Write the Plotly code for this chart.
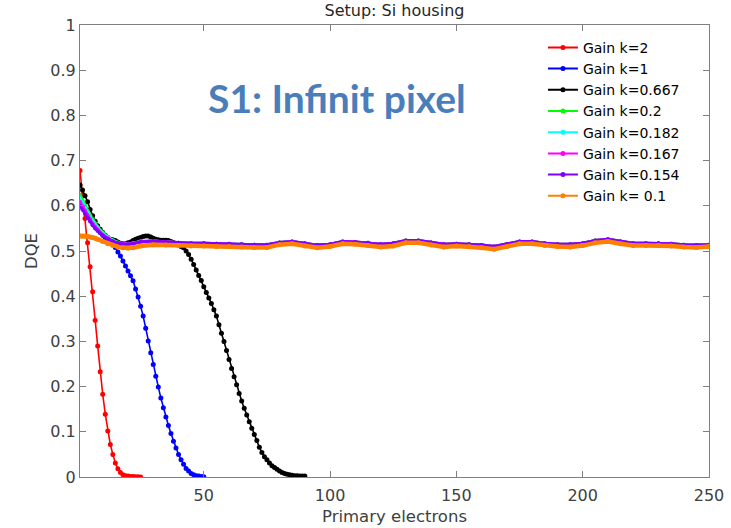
import plotly.graph_objects as go

# x grids
red_x = list(range(1, 26))
blue_x = list(range(1, 51))
black_x = list(range(1, 91))
flat_head_x = [1, 2, 3, 4, 5, 6, 7, 8, 10, 12, 14, 16, 18, 20, 22, 25]
flat_tail_x = list(range(30, 251, 5))

# DQE values per gain
red_y = [0.678, 0.625, 0.572, 0.518, 0.465, 0.410, 0.347, 0.290, 0.233, 0.183,
         0.139, 0.102, 0.072, 0.050, 0.031, 0.018, 0.010, 0.005, 0.003, 0.002,
         0.001, 0.001, 0.0005, 0.0003, 0.0002]

blue_y = [0.612, 0.601, 0.591, 0.581, 0.572, 0.563, 0.555, 0.548, 0.541, 0.535,
          0.530, 0.525, 0.520, 0.515, 0.508, 0.498, 0.489, 0.478, 0.467, 0.456,
          0.445, 0.434, 0.416, 0.398, 0.378, 0.356, 0.329, 0.301, 0.275, 0.249,
          0.223, 0.199, 0.175, 0.153, 0.133, 0.114, 0.096, 0.079, 0.064, 0.050,
          0.038, 0.028, 0.019, 0.013, 0.008, 0.005, 0.003, 0.002, 0.001, 0.0005]

black_y = [0.646, 0.635, 0.622, 0.609, 0.592, 0.578, 0.566, 0.556, 0.548, 0.541,
           0.535, 0.530, 0.526, 0.525, 0.523, 0.520, 0.517, 0.516, 0.516, 0.518,
           0.520, 0.523, 0.526, 0.528, 0.530, 0.532, 0.533, 0.533, 0.531, 0.528,
           0.526, 0.525, 0.524, 0.524, 0.524, 0.523, 0.521, 0.519, 0.516, 0.513,
           0.510, 0.507, 0.500, 0.492, 0.482, 0.470, 0.458, 0.446, 0.435, 0.421,
           0.408, 0.396, 0.384, 0.370, 0.356, 0.337, 0.318, 0.300, 0.280, 0.260,
           0.240, 0.222, 0.204, 0.185, 0.168, 0.152, 0.137, 0.122, 0.108, 0.094,
           0.081, 0.066, 0.054, 0.045, 0.038, 0.031, 0.025, 0.021, 0.017, 0.013,
           0.010, 0.008, 0.006, 0.005, 0.004, 0.003, 0.003, 0.002, 0.002, 0.002]

green_head = [0.624, 0.612, 0.600, 0.589, 0.579, 0.570, 0.561, 0.553, 0.541, 0.531,
              0.524, 0.519, 0.516, 0.516, 0.517, 0.521]
cyan_head = [0.617, 0.606, 0.595, 0.585, 0.575, 0.566, 0.558, 0.551, 0.539, 0.530,
             0.523, 0.518, 0.516, 0.516, 0.517, 0.521]
magenta_head = [0.609, 0.599, 0.589, 0.579, 0.570, 0.561, 0.553, 0.547, 0.536, 0.528,
                0.522, 0.518, 0.516, 0.515, 0.517, 0.521]
purple_head = [0.600, 0.591, 0.582, 0.573, 0.565, 0.557, 0.550, 0.544, 0.534, 0.527,
               0.521, 0.517, 0.515, 0.515, 0.516, 0.520]
# the four low-gain curves share the same plateau
plateau_tail = [0.522, 0.520, 0.518, 0.517, 0.517, 0.516, 0.516, 0.515, 0.514, 0.514,
                0.519, 0.521, 0.517, 0.513, 0.515, 0.521, 0.520, 0.518, 0.515, 0.517,
                0.523, 0.523, 0.519, 0.515, 0.516, 0.515, 0.513, 0.510, 0.515, 0.521,
                0.521, 0.517, 0.515, 0.515, 0.517, 0.523, 0.526, 0.521, 0.517, 0.517,
                0.517, 0.516, 0.514, 0.513, 0.514]

orange_head = [0.533, 0.533, 0.533, 0.532, 0.531, 0.530, 0.528, 0.526, 0.521, 0.516,
               0.512, 0.509, 0.507, 0.506, 0.507, 0.511]
orange_tail = [0.514, 0.513, 0.512, 0.511, 0.511, 0.510, 0.510, 0.509, 0.508, 0.508,
               0.514, 0.516, 0.511, 0.507, 0.510, 0.516, 0.515, 0.512, 0.509, 0.511,
               0.518, 0.518, 0.513, 0.509, 0.511, 0.510, 0.507, 0.504, 0.510, 0.516,
               0.516, 0.512, 0.510, 0.509, 0.512, 0.518, 0.521, 0.516, 0.512, 0.512,
               0.512, 0.511, 0.509, 0.508, 0.510]

flat_x = flat_head_x + flat_tail_x

series = [
    ("Gain k=2", red_x, red_y, "#ff0000", 1.6, 5),
    ("Gain k=1", blue_x, blue_y, "#0000ff", 1.6, 5),
    ("Gain k=0.667", black_x, black_y, "#000000", 1.6, 5),
    ("Gain k=0.2", flat_x, green_head + plateau_tail, "#00ff00", 3, 4),
    ("Gain k=0.182", flat_x, cyan_head + plateau_tail, "#00ffff", 3, 4),
    ("Gain k=0.167", flat_x, magenta_head + plateau_tail, "#ff00ff", 3, 4),
    ("Gain k=0.154", flat_x, purple_head + plateau_tail, "#8000ff", 3, 4),
    ("Gain k= 0.1", flat_x, orange_head + orange_tail, "#ff8000", 4.5, 5),
]

fig = go.Figure()
for name, xs, ys, color, lw, ms in series:
    fig.add_trace(go.Scatter(
        x=xs, y=ys, name=name, mode="lines+markers", legendgroup=name,
        showlegend=False,
        line=dict(color=color, width=lw),
        marker=dict(color=color, size=ms),
    ))
# legend keys drawn with a uniform thin line and dot
for name, xs, ys, color, lw, ms in series:
    fig.add_trace(go.Scatter(
        x=[None], y=[None], name=name, mode="lines+markers", legendgroup=name,
        line=dict(color=color, width=2), marker=dict(color=color, size=5),
    ))

axis_color = "#7f7f7f"
tick_font = dict(family="DejaVu Sans", size=16, color="#404040")

fig.update_layout(
    width=731, height=528,
    margin=dict(l=80, r=22, t=25, b=51),
    paper_bgcolor="white", plot_bgcolor="white",
    font=dict(family="DejaVu Sans", color="#262626"),
    title=dict(text="Setup: Si housing", x=0.5, xref="paper", xanchor="center",
               y=1, yref="container", yanchor="top", pad=dict(t=5),
               font=dict(size=16, color="#262626")),
    showlegend=True,
    legend=dict(x=0.736, y=0.985, xanchor="left", yanchor="top",
                bgcolor="rgba(0,0,0,0)", borderwidth=0,
                font=dict(size=14, color="#000000"),
                tracegroupgap=0, itemwidth=30),
    annotations=[dict(text="<b>S1: Infinit pixel</b>", xref="paper", yref="paper",
                      x=0.409, y=0.838, xanchor="center", yanchor="middle",
                      showarrow=False,
                      font=dict(family="Lato", size=39, color="#4a7ebb"))],
)

fig.update_xaxes(range=[1, 250], tickvals=[50, 100, 150, 200, 250],
                 ticks="inside", ticklen=6, tickcolor=axis_color,
                 showline=True, linecolor=axis_color, linewidth=1, mirror="ticks",
                 showgrid=False, zeroline=False, tickfont=tick_font,
                 ticklabelstandoff=4, automargin=False,
                 title=dict(text="Primary electrons", standoff=6,
                            font=dict(size=16.5, color="#404040")))
fig.update_yaxes(range=[0, 1], tickvals=[i / 10 for i in range(11)],
                 ticktext=["0", "0.1", "0.2", "0.3", "0.4", "0.5", "0.6", "0.7", "0.8", "0.9", "1"],
                 ticks="inside", ticklen=6, tickcolor=axis_color,
                 showline=True, linecolor=axis_color, linewidth=1, mirror="ticks",
                 showgrid=False, zeroline=False, tickfont=tick_font,
                 automargin=False,
                 title=dict(text="DQE", standoff=8,
                            font=dict(size=16.5, color="#404040")))

fig.write_html("out.html")
